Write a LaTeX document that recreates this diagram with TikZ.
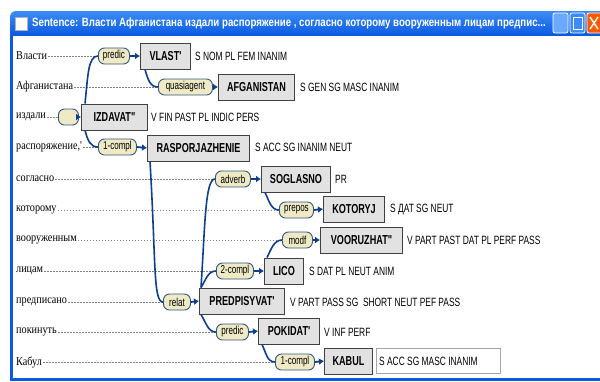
\documentclass[tikz,border=0pt]{standalone}
\usepackage{fontspec}
\setmainfont{Liberation Serif}
\newfontfamily\narrowsf[FakeStretch=0.7]{Liberation Sans}
\newfontfamily\titlesf[FakeStretch=0.805]{Liberation Sans}
\newfontfamily\wordrm[FakeStretch=0.85]{Liberation Serif}
\usetikzlibrary{arrows.meta}
\definecolor{winblue}{HTML}{0A58E4}
\definecolor{titletop}{HTML}{3C8CF8}
\definecolor{titlebot}{HTML}{0050DC}
\definecolor{deplink}{HTML}{0D3F8E}
\definecolor{labfill}{HTML}{EEEAC6}
\definecolor{labline}{HTML}{34557E}
\definecolor{boxfill}{HTML}{E2E2E2}
\tikzset{
  word/.style={anchor=west,inner sep=0pt,font=\wordrm\fontsize{12}{13}\selectfont},
  lab/.style={anchor=west,draw=labline,fill=labfill,rounded corners=6pt,line width=0.9pt,
    minimum height=16,inner xsep=1pt,inner ysep=0pt,font=\narrowsf\fontsize{11.5}{12}\selectfont},
  wbox/.style={anchor=west,draw=black!75,fill=boxfill,line width=1pt,minimum height=26,
    inner sep=0pt,font=\narrowsf\bfseries\fontsize{13}{14}\selectfont},
  morph/.style={anchor=west,inner sep=0pt,font=\narrowsf\fontsize{12}{13}\selectfont},
  dep/.style={draw=deplink,line width=1.6pt},
  tolex/.style={draw=deplink,line width=1.8pt,-{Latex[length=5pt,width=7pt]}},
  dots/.style={draw=gray,line width=0.5pt,dash pattern=on 1.5pt off 1.5pt,shorten <=1pt}
}
\begin{document}
\begin{tikzpicture}[x=1pt,y=-1pt]
\useasboundingbox (0,0) rectangle (600,381);
\clip (0,0) rectangle (600,381);
% window frame
\shade[top color=titletop,bottom color=titlebot] (10,40) [rounded corners=6pt] -- (10,11) -- (615,11) [sharp corners] -- (615,40) -- cycle;
\fill[white] (13,36) rectangle (600,378);
\fill[winblue] (10,36) rectangle (13,381);
\fill[winblue] (10,378) rectangle (600,381);
\fill[white,draw=gray!60] (15,17) rectangle (27,30);
\node[anchor=west,text=white,inner sep=0pt,font=\titlesf\bfseries\fontsize{12}{13}\selectfont] (title) at (32,23)
  {Sentence: Власти Афганистана издали распоряжение , согласно которому вооруженным лицам предпис...};
\draw[white,line width=0.8pt,fill=titletop!75!white,rounded corners=2pt] (553,13) rectangle (568,33);
\draw[white,line width=0.8pt,fill=titletop,rounded corners=2pt] (570,13) rectangle (585,33);
\draw[white,line width=1pt] (573,17) rectangle (582,29);
\draw[white,line width=0.8pt,fill=orange!70!red,rounded corners=2pt] (587,13) rectangle (604,33);
\draw[white,line width=1.4pt] (590,17) -- (598,29) (598,17) -- (590,29);

% words
\node[word] (w0) at (16,56) {Власти};
\node[word] (w1) at (16,87) {Афганистана};
\node[word] (w2) at (16,117) {издали};
\node[word] (w3) at (16,147) {распоряжение,'};
\node[word] (w4) at (16,179) {согласно};
\node[word] (w5) at (16,210) {которому};
\node[word] (w6) at (16,240) {вооруженным};
\node[word] (w7) at (16,271) {лицам};
\node[word] (w8) at (16,302) {предписано};
\node[word] (w9) at (16,332) {покинуть};
\node[word] (w10) at (16,362) {Кабул};

% relation labels
\node[lab,minimum width=31] (l0) at (98,56) {predic};
\node[lab,minimum width=54] (l1) at (158,87) {quasiagent};
\node[lab,minimum width=20] (l2) at (58,117) {};
\node[lab,minimum width=38] (l3) at (98,147) {1-compl};
\node[lab,minimum width=35] (l4) at (215,179) {adverb};
\node[lab,minimum width=34] (l5) at (279,210) {prepos};
\node[lab,minimum width=30] (l6) at (282,240) {modf};
\node[lab,minimum width=37] (l7) at (216,271) {2-compl};
\node[lab,minimum width=27] (l8) at (163,302) {relat};
\node[lab,minimum width=32] (l9) at (216,332) {predic};
\node[lab,minimum width=39] (l10) at (275,362) {1-compl};

% lemma boxes
\node[wbox,minimum width=50] (b0) at (140,56) {VLAST'};
\node[wbox,minimum width=76] (b1) at (218,87) {AFGANISTAN};
\node[wbox,minimum width=66] (b2) at (81,117) {IZDAVAT"};
\node[wbox,minimum width=102] (b3) at (147,148) {RASPORJAZHENIE};
\node[wbox,minimum width=69] (b4) at (261,179) {SOGLASNO};
\node[wbox,minimum width=61] (b5) at (323,209) {KOTORYJ};
\node[wbox,minimum width=82] (b6) at (320,240) {VOORUZHAT"};
\node[wbox,minimum width=39] (b7) at (264,271) {LICO};
\node[wbox,minimum width=85] (b8) at (199,301) {PREDPISYVAT'};
\node[wbox,minimum width=61] (b9) at (258,331) {POKIDAT'};
\node[wbox,minimum width=48] (b10) at (324,361) {KABUL};

% grammemes
\node[morph] (m0) at (195,56) {S NOM PL FEM INANIM};
\node[morph] (m1) at (300,87) {S GEN SG MASC INANIM};
\node[morph] (m2) at (151,117) {V FIN PAST PL INDIC PERS};
\node[morph] (m3) at (255,147) {S ACC SG INANIM NEUT};
\node[morph] (m4) at (335,179) {PR};
\node[morph] (m5) at (390,210) {S ДАТ SG NEUT};
\node[morph] (m6) at (407,240) {V PART PAST DAT PL PERF PASS};
\node[morph] (m7) at (309,271) {S DAT PL NEUT ANIM};
\node[morph] (m8) at (290,302) {V PART PASS SG\ \ SHORT NEUT PEF PASS};
\node[morph] (m9) at (324,332) {V INF PERF};
\node[anchor=west,draw=gray!70,fill=white,line width=0.8pt,minimum width=124,minimum height=25] (edit) at (376,361) {};
\node[morph] (m10) at (379,361) {S ACC SG MASC INANIM};

% word to label
\draw[dots] (w0.east) -- (l0.west);
\draw[dots] (w1.east) -- (l1.west);
\draw[dots] (w2.east) -- (l2.west);
\draw[dots] (w3.east) -- (l3.west);
\draw[dots] (w4.east) -- (l4.west);
\draw[dots] (w5.east) -- (l5.west);
\draw[dots] (w6.east) -- (l6.west);
\draw[dots] (w7.east) -- (l7.west);
\draw[dots] (w8.east) -- (l8.west);
\draw[dots] (w9.east) -- (l9.west);
\draw[dots] (w10.east) -- (l10.west);

% label to box
\foreach \i in {0,...,10}
  \draw[tolex] (l\i.east) -- (b\i.west);

% tree
\draw[dep] ([xshift=4pt]b2.north west) .. controls +(3,-28) and +(-10,0) .. (l0.west);
\draw[dep] ([xshift=4pt]b2.south west) .. controls +(3,10) and +(-8,0) .. (l3.west);
\draw[dep] ([xshift=5pt]b0.south west) .. controls +(3,10) and +(-8,0) .. (l1.west);
\draw[dep] ([xshift=3pt]b3.south west) .. controls +(6,100) and +(-10,0) .. (l8.west);
\draw[dep] ([xshift=2pt]b8.north west) .. controls +(4,-60) and +(-10,0) .. (l4.west);
\draw[dep] ([xshift=2pt]b8.north west) .. controls +(5,-8) and +(-8,0) .. (l7.west);
\draw[dep] ([xshift=2pt]b8.south west) .. controls +(5,8) and +(-8,0) .. (l9.west);
\draw[dep] ([xshift=4pt]b4.south west) .. controls +(4,8) and +(-8,0) .. (l5.west);
\draw[dep] ([xshift=3pt]b7.north west) .. controls +(4,-8) and +(-8,0) .. (l6.west);
\draw[dep] ([xshift=4pt]b9.south west) .. controls +(4,8) and +(-8,0) .. (l10.west);
\end{tikzpicture}
\end{document}
